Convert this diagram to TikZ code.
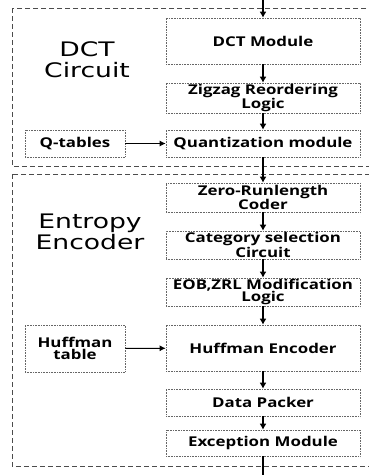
\documentclass[tikz,border=0pt]{standalone}
\usepackage{fontspec}
\usetikzlibrary{arrows.meta}
\newfontfamily\labelfont[FakeStretch=1.33]{DejaVu Sans}
\newfontfamily\boxfont[FakeStretch=1.25]{Open Sans}
\tikzset{
  blk/.style={draw=black!60, densely dotted, line width=0.6pt, minimum width=194pt, align=center,
    inner sep=1pt, font=\boxfont\bfseries\fontsize{13.5}{12.5}\selectfont},
  side/.style={blk, minimum width=100pt},
  outer/.style={draw=black!70, dash pattern=on 5pt off 3pt, line width=0.7pt},
  flow/.style={line width=1.8pt, -{Latex[length=6pt,width=7pt]}},
  feed/.style={line width=1pt, -{Latex[length=6pt,width=6pt]}},
  lbl/.style={align=center, font=\labelfont\fontsize{20}{21}\selectfont, inner sep=0pt}
}
\begin{document}
\begin{tikzpicture}[x=1pt,y=-1pt]
\useasboundingbox (0,0) rectangle (369,475);
% outer groups
\draw[outer] (12,8) rectangle (375,166);
\draw[outer] (12,174) rectangle (375,466);
% labels
\node[lbl] (dctlbl) at (87,60) {DCT\\Circuit};
\node[lbl] (entlbl) at (90,232) {Entropy\\Encoder};
% blocks
\node[blk, minimum height=46pt] (dct) at (263,41) {DCT Module};
\node[blk, minimum height=28pt] (zig) at (263,98) {Zigzag Reordering\\Logic};
\node[blk, minimum height=27pt] (quant) at (263,143.5) {Quantization module};
\node[side, minimum height=27pt] (qtab) at (75,143.5) {Q-tables};
\node[blk, minimum height=29pt] (zrl) at (263,197.5) {Zero-Runlength\\Coder};
\node[blk, minimum height=28pt] (cat) at (263,245) {Category selection\\Circuit};
\node[blk, minimum height=28pt] (eob) at (263,292) {EOB,ZRL Modification\\Logic};
\node[blk, minimum height=46pt] (henc) at (263,348) {Huffman Encoder};
\node[side, minimum height=47pt] (htab) at (75,348.5) {Huffman\\table};
\node[blk, minimum height=27pt] (dp) at (263,402.5) {Data Packer};
\node[blk, minimum height=26pt] (exc) at (263,443) {Exception Module};
\coordinate (in) at (263,0);
\coordinate (out) at (263,475);
% connectors
\draw[flow] (in) -- (dct);
\draw[flow] (dct) -- (zig);
\draw[flow] (zig) -- (quant);
\draw[flow] (quant) -- (zrl);
\draw[flow] (zrl) -- (cat);
\draw[flow] (cat) -- (eob);
\draw[flow] (eob) -- (henc);
\draw[flow] (henc) -- (dp);
\draw[flow] (dp) -- (exc);
\draw[line width=1.8pt] (exc) -- (out);
\draw[feed] (qtab) -- (quant);
\draw[feed] (htab) -- (henc);
\end{tikzpicture}
\end{document}
